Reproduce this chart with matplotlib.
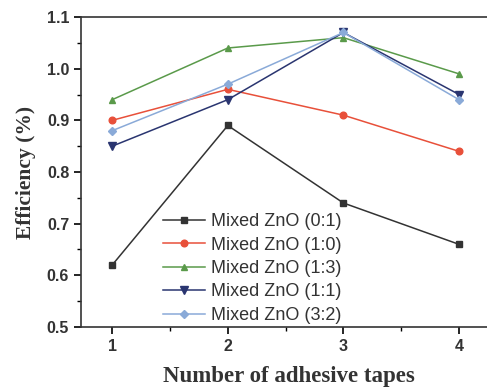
import matplotlib
matplotlib.use("Agg")
import matplotlib.pyplot as plt
from matplotlib.ticker import MultipleLocator

tapes = [1, 2, 3, 4]
labels = ["Mixed ZnO (0:1)", "Mixed ZnO (1:0)", "Mixed ZnO (1:3)", "Mixed ZnO (1:1)", "Mixed ZnO (3:2)"]
eff_01 = [0.62, 0.89, 0.74, 0.66]
eff_10 = [0.90, 0.96, 0.91, 0.84]
eff_13 = [0.94, 1.04, 1.06, 0.99]
eff_11 = [0.85, 0.94, 1.07, 0.95]
eff_32 = [0.88, 0.97, 1.07, 0.94]

series = [eff_01, eff_10, eff_13, eff_11, eff_32]
colors = ["#333333", "#e8503a", "#5a9a4a", "#2a3570", "#8aaad8"]
markers = ["s", "o", "^", "v", "D"]
msizes = [4.2, 4.8, 4.8, 5.2, 4.0]

fig = plt.figure(figsize=(4.87, 3.91), dpi=100)
ax = fig.add_axes([81/487, 64/391, 415/487, 310/391])

for y, c, m, ms, lab in zip(series, colors, markers, msizes, labels):
    ax.plot(tapes, y, color=c, marker=m, markersize=ms, linewidth=1.1, label=lab)

ax.set_xlim(0.73, 4.32)
ax.set_ylim(0.5, 1.1)
ax.set_xticks(tapes)
ax.xaxis.set_minor_locator(MultipleLocator(0.5))
ax.yaxis.set_major_locator(MultipleLocator(0.1))
ax.yaxis.set_minor_locator(MultipleLocator(0.05))
ax.tick_params(which="major", direction="out", length=5, width=1.2, labelsize=11.5)
ax.tick_params(which="minor", direction="out", length=3, width=1)
for lab in ax.get_xticklabels() + ax.get_yticklabels():
    lab.set_fontfamily("Liberation Sans")
    lab.set_fontweight("bold")
    lab.set_color("#333333")
for s in ax.spines.values():
    s.set_linewidth(1.2)
    s.set_color("#333333")

ax.set_xlabel("Number of adhesive tapes", fontfamily="Liberation Serif", fontweight="bold", fontsize=16.5, color="#333333", labelpad=9)
ax.set_ylabel("Efficiency (%)", fontfamily="Liberation Serif", fontweight="bold", fontsize=15.5, color="#333333", labelpad=8)

leg = ax.legend(loc="upper left", bbox_to_anchor=(82/415, (327-213)/310), frameon=False,
                prop={"family": "Liberation Sans", "size": 13}, handlelength=2.3,
                handletextpad=0.35, labelspacing=0.36, borderaxespad=0.0, borderpad=0.0)
for t in leg.get_texts():
    t.set_color("#333333")

fig.savefig("out.png", dpi=100)
